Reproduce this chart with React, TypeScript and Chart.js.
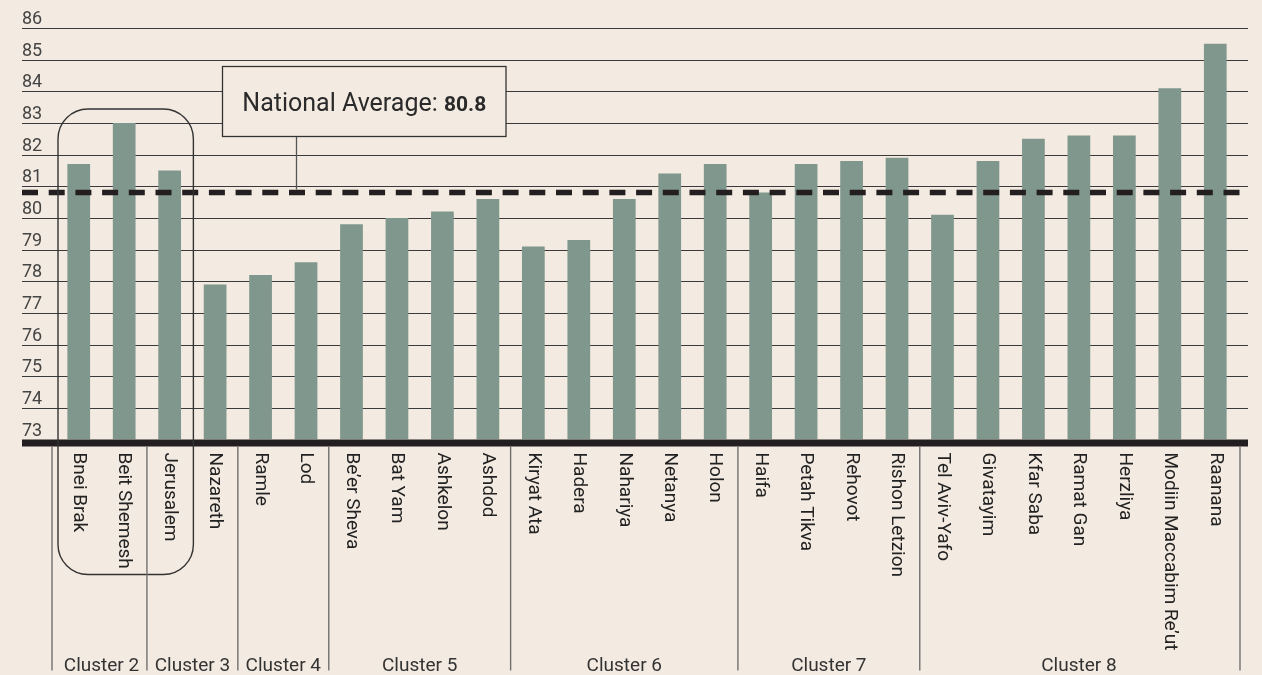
import React, { useEffect, useRef } from "react";
import { Chart, registerables } from "chart.js";

Chart.register(...registerables);

const cities = [
  "Bnei Brak", "Beit Shemesh", "Jerusalem", "Nazareth", "Ramle", "Lod",
  "Be’er Sheva", "Bat Yam", "Ashkelon", "Ashdod", "Kiryat Ata", "Hadera",
  "Nahariya", "Netanya", "Holon", "Haifa", "Petah Tikva", "Rehovot",
  "Rishon Letzion", "Tel Aviv-Yafo", "Givatayim", "Kfar Saba", "Ramat Gan",
  "Herzliya", "Modiin Maccabim Re’ut", "Raanana",
];
const scores = [
  81.7, 83.0, 81.5, 77.9, 78.2, 78.6, 79.8, 80.0, 80.2, 80.6, 79.1, 79.3,
  80.6, 81.4, 81.7, 80.8, 81.7, 81.8, 81.9, 80.1, 81.8, 82.5, 82.6, 82.6,
  84.1, 85.5,
];
const clusterNames = ["Cluster 2", "Cluster 3", "Cluster 4", "Cluster 5", "Cluster 6", "Cluster 7", "Cluster 8"];
const clusterBounds = [0, 2, 4, 6, 10, 15, 19, 26];
const yTicks = [73, 74, 75, 76, 77, 78, 79, 80, 81, 82, 83, 84, 85, 86];
const nationalAverage = 80.8;
const circledGroup = [0, 2];

const BG = "#f3ebe1";
const BAR = "#80978d";
const INK = "#231f20";

const decor = {
  id: "decor",
  beforeDatasetsDraw(chart: any) {
    const { ctx, chartArea, scales } = chart;
    const y = scales.y;
    const gl = chartArea.left - 34;
    const gr = chartArea.right + 10;
    ctx.save();
    ctx.strokeStyle = "#3a3a3a";
    ctx.lineWidth = 1.2;
    ctx.fillStyle = "#444";
    ctx.font = "18px Roboto";
    ctx.textAlign = "left";
    ctx.textBaseline = "alphabetic";
    for (const t of yTicks) {
      const py = Math.round(y.getPixelForValue(t)) + 0.5;
      if (t !== yTicks[0]) {
        ctx.beginPath();
        ctx.moveTo(gl, py);
        ctx.lineTo(gr, py);
        ctx.stroke();
      }
      ctx.fillText(String(t), gl, py - 4.5);
    }
    ctx.restore();
  },
  afterDatasetsDraw(chart: any) {
    const { ctx, chartArea, scales } = chart;
    const x = scales.x;
    const y = scales.y;
    const gl = chartArea.left - 34;
    const gr = chartArea.right + 10;
    const step = x.getPixelForValue(1) - x.getPixelForValue(0);
    const edge = (i: number) => x.getPixelForValue(i) - step / 2;
    const base = y.getPixelForValue(yTicks[0]);

    ctx.save();
    // dashed national average line
    const ay = y.getPixelForValue(nationalAverage);
    ctx.strokeStyle = INK;
    ctx.lineWidth = 5.5;
    ctx.setLineDash([16, 10.7]);
    ctx.beginPath();
    ctx.moveTo(gl, ay);
    ctx.lineTo(gr, ay);
    ctx.stroke();
    ctx.setLineDash([]);

    // thick axis
    ctx.fillStyle = INK;
    ctx.fillRect(gl, base, gr - gl, 7);

    // annotation box
    const bx0 = chartArea.left + 166.5;
    const bx1 = chartArea.left + 450;
    const by0 = 66.5;
    const by1 = 136.5;
    const cx = chartArea.left + 240.5;
    ctx.strokeStyle = "#555";
    ctx.lineWidth = 1.3;
    ctx.beginPath();
    ctx.moveTo(cx, by1);
    ctx.lineTo(cx, ay - 3);
    ctx.stroke();
    ctx.fillStyle = BG;
    ctx.fillRect(bx0, by0, bx1 - bx0, by1 - by0);
    ctx.strokeStyle = "#333";
    ctx.strokeRect(bx0, by0, bx1 - bx0, by1 - by0);
    ctx.fillStyle = "#2a2a2a";
    ctx.textBaseline = "alphabetic";
    ctx.textAlign = "left";
    const t1 = "National Average: ";
    ctx.font = "25px Roboto";
    const w1 = ctx.measureText(t1).width;
    ctx.font = "bold 21px Roboto";
    const t2 = nationalAverage.toFixed(1);
    const w2 = ctx.measureText(t2).width;
    const tx = (bx0 + bx1) / 2 - (w1 + w2) / 2;
    ctx.font = "25px Roboto";
    ctx.fillText(t1, tx, 111);
    ctx.font = "bold 21px Roboto";
    ctx.fillText(t2, tx + w1, 111);

    // rounded highlight rectangle
    const rx0 = edge(circledGroup[0]) + 2;
    const rx1 = edge(circledGroup[1] + 1) + 1;
    const ry0 = y.getPixelForValue(Math.max(...scores.slice(circledGroup[0], circledGroup[1] + 1))) - 14;
    const ry1 = base + 135;
    const r = 30;
    ctx.strokeStyle = "#333";
    ctx.lineWidth = 1.4;
    ctx.beginPath();
    ctx.roundRect(rx0, ry0, rx1 - rx0, ry1 - ry0, r);
    ctx.stroke();

    // separators
    ctx.strokeStyle = "#707070";
    ctx.lineWidth = 1.4;
    clusterBounds.forEach((b, i) => {
      let px = edge(b);
      if (i === 0) px -= 4;
      if (i === clusterBounds.length - 1) px += 2;
      ctx.beginPath();
      ctx.moveTo(px, base + 7);
      ctx.lineTo(px, base + 231);
      ctx.stroke();
    });

    // cluster labels
    ctx.fillStyle = "#333";
    ctx.font = "19px Roboto";
    ctx.textAlign = "center";
    clusterNames.forEach((n, i) => {
      const mid = (edge(clusterBounds[i]) + edge(clusterBounds[i + 1])) / 2;
      ctx.fillText(n, mid, base + 231);
    });

    // city labels, rotated
    ctx.fillStyle = "#222";
    ctx.font = "19px Roboto";
    ctx.textAlign = "left";
    ctx.textBaseline = "middle";
    cities.forEach((c, i) => {
      const px = x.getPixelForValue(i);
      ctx.save();
      ctx.translate(px, base + 13);
      ctx.rotate(Math.PI / 2);
      ctx.fillText(c, 0, 0);
      ctx.restore();
    });
    ctx.restore();
  },
};

export default function App() {
  const ref = useRef<HTMLCanvasElement | null>(null);
  useEffect(() => {
    document.body.style.margin = "0";
    document.body.style.background = BG;
    const chart = new Chart(ref.current as HTMLCanvasElement, {
      type: "bar",
      data: {
        labels: cities,
        datasets: [
          {
            data: scores.map((v) => [yTicks[0], v]),
            backgroundColor: BAR,
            borderWidth: 0,
            barPercentage: 0.5,
            categoryPercentage: 1,
          },
        ],
      },
      options: {
        responsive: false,
        animation: false,
        devicePixelRatio: 1,
        layout: { padding: { left: 56, right: 24, top: 28, bottom: 235.5 } },
        plugins: { legend: { display: false }, tooltip: { enabled: false } },
        scales: {
          x: { display: false, offset: true, grid: { display: false } },
          y: { display: false, min: yTicks[0], max: yTicks[yTicks.length - 1] },
        },
      },
      plugins: [decor],
    });
    return () => chart.destroy();
  }, []);
  return (
    <div style={{ position: "fixed", left: 0, top: 0, width: 1262, height: 675, background: BG }}>
      <canvas ref={ref} width={1262} height={675} style={{ display: "block" }} />
    </div>
  );
}
